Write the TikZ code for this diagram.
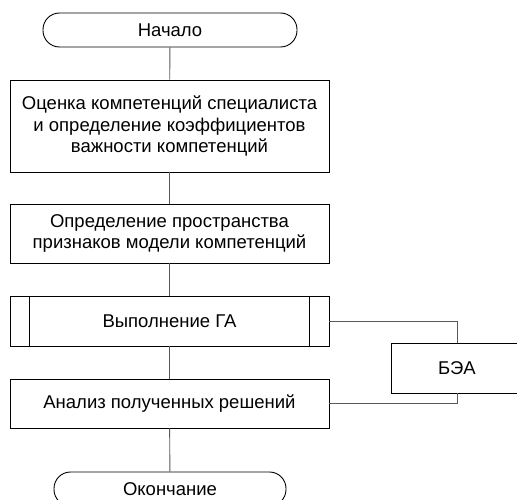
\documentclass[tikz,border=0pt]{standalone}
\usepackage{fontspec}
\setmainfont{Liberation Sans}
\usetikzlibrary{positioning}

\begin{document}
\begin{tikzpicture}[x=1pt,y=-1pt,
  every node/.style={inner sep=0pt,align=center,font=\fontsize{18.5}{21.3}\selectfont},
  block/.style={draw,line width=0.9pt,minimum width=319pt},
  term/.style={draw,line width=0.9pt,rounded corners=16.5pt,minimum height=34pt},
  link/.style={draw=black!65,line width=0.9pt}]
\useasboundingbox (0,0) rectangle (517,500);
\node[term,minimum width=254pt] (start) at (170,30) {Начало};
\node[block,minimum height=92pt] (eval) at (169.5,126) {Оценка компетенций специалиста\\и определение коэффициентов\\важности компетенций};
\node[block,minimum height=59pt] (space) at (169.5,233.5) {Определение пространства\\признаков модели компетенций};
\node[block,minimum height=50pt] (ga) at (169.5,321) {Выполнение ГА};
\node[draw,line width=0.9pt,minimum width=132pt,minimum height=50pt] (bea) at (457,368) {БЭА};
\node[block,minimum height=49pt] (anal) at (169.5,403.5) {Анализ полученных решений};
\node[term,minimum width=232pt] (stop) at (170,489) {Окончание};
\draw[line width=0.9pt] ([xshift=20pt]ga.north west) -- ([xshift=20pt]ga.south west);
\draw[line width=0.9pt] ([xshift=-20pt]ga.north east) -- ([xshift=-20pt]ga.south east);
\draw[link] (start)--(eval);
\draw[link] (eval)--(space);
\draw[link] (space)--(ga);
\draw[link] (ga)--(anal);
\draw[link] (anal)--(stop);
\draw[link] (ga.east) -| (bea.north);
\draw[link] (anal.east) -| (bea.south);
\end{tikzpicture}
\end{document}
